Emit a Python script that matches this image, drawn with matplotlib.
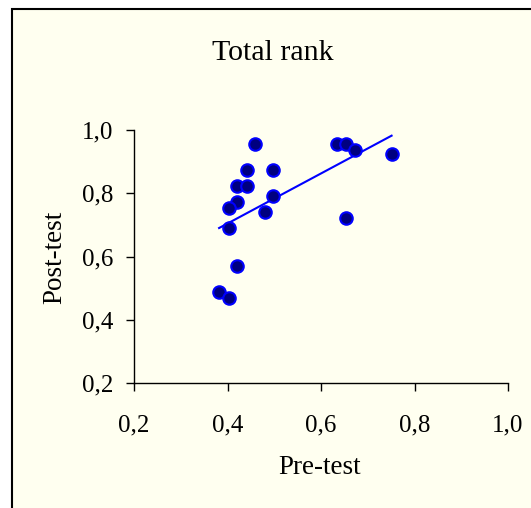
import numpy as np
import matplotlib
matplotlib.use("Agg")
import matplotlib.pyplot as plt
from matplotlib.patches import Rectangle

plt.rcParams['font.family'] = ['Liberation Serif', 'DejaVu Serif']

TITLE = "Total rank"
X_LABEL = "Pre-test"
Y_LABEL = "Post-test"

# values
pre_test = [0.459, 0.634, 0.653, 0.673, 0.751, 0.441, 0.497, 0.420, 0.442,
            0.497, 0.421, 0.403, 0.480, 0.653, 0.403, 0.420, 0.382, 0.403]
post_test = [0.956, 0.956, 0.956, 0.938, 0.925, 0.874, 0.874, 0.823, 0.823,
             0.792, 0.773, 0.753, 0.742, 0.723, 0.691, 0.571, 0.488, 0.469]

ticks = [0.2, 0.4, 0.6, 0.8, 1.0]
tick_labels = ["0,2", "0,4", "0,6", "0,8", "1,0"]

BG = '#FFFFF0'
POINT_FACE = '#000080'
POINT_EDGE = '#0000FF'

W, H = 531, 508
fig = plt.figure(figsize=(W / 100, H / 100), dpi=100)
fig.patch.set_facecolor('white')

# chart area with a frame (right and bottom run past the picture)
frame = Rectangle((12 / W, 0 - 0.01), 1.05, 1 - 9 / H + 0.01,
                  transform=fig.transFigure, facecolor=BG,
                  edgecolor='black', linewidth=1.5, zorder=-10)
fig.patches.append(frame)

ax = fig.add_axes([134 / W, 1 - 383 / H, (508 - 134) / W, (383 - 130) / H])
ax.set_zorder(5)
ax.set_facecolor('none')

ax.plot(pre_test, post_test, linestyle='none', marker='o', markersize=9,
        markerfacecolor=POINT_FACE, markeredgecolor=POINT_EDGE,
        markeredgewidth=1.5, zorder=3, clip_on=False)

# linear trend line across the data range
k, b = np.polyfit(pre_test, post_test, 1)
xs = np.array([min(pre_test), max(pre_test)])
ax.plot(xs, k * xs + b, color='#0000FF', linewidth=1.5, zorder=2)

ax.set_xlim(0.2, 1.0)
ax.set_ylim(0.2, 1.0)
ax.set_xticks(ticks)
ax.set_xticklabels(tick_labels)
ax.set_yticks(ticks)
ax.set_yticklabels(tick_labels)

for s in ['top', 'right']:
    ax.spines[s].set_visible(False)
for s in ['left', 'bottom']:
    ax.spines[s].set_linewidth(1.0)
    ax.spines[s].set_color('black')

ax.tick_params(axis='both', direction='out', length=5.5, width=1.0,
               labelsize=18, colors='black')
ax.tick_params(axis='x', pad=17)
ax.tick_params(axis='y', pad=9.5)

fig.text(320 / W, 1 - 468 / H, X_LABEL, ha='center', va='center', fontsize=19.5)
fig.text(55 / W, 1 - 257 / H, Y_LABEL, ha='center', va='center',
         rotation=90, fontsize=19.5)
fig.text(273 / W, 1 - 53 / H, TITLE, ha='center', va='center', fontsize=21.5)

fig.savefig('out.png', dpi=100, facecolor=fig.get_facecolor())
